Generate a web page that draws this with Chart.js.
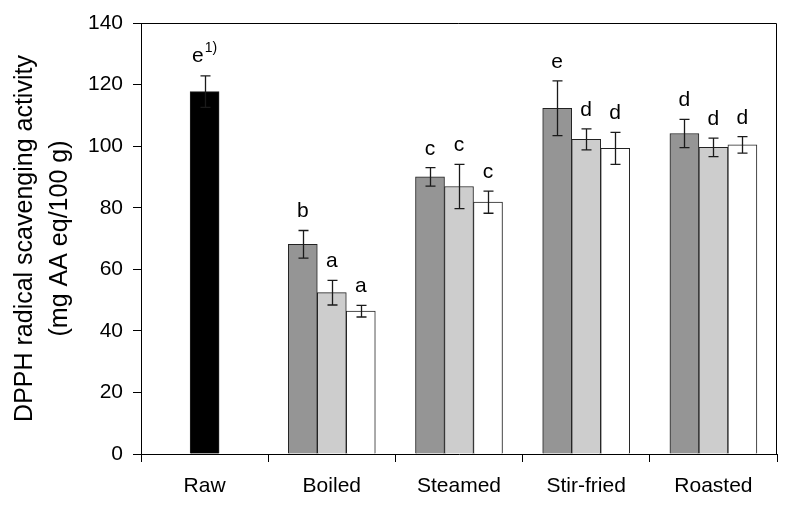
<!DOCTYPE html>
<html>
<head>
<meta charset="utf-8">
<script src="https://cdn.jsdelivr.net/npm/chart.js@4"></script>
<style>
  html, body { margin: 0; padding: 0; background: #fff; }
  #wrap { width: 793px; height: 509px; }
</style>
</head>
<body>
<div id="wrap"><canvas id="chart"></canvas></div>
<script>
'use strict';

// data
const categories = ['Raw', 'Boiled', 'Steamed', 'Stir-fried', 'Roasted'];
const series1 = [117.7, 68.1, 90.0, 112.3, 104.1];
const series2 = [null, 52.4, 86.9, 102.2, 99.6];
const series3 = [null, 46.4, 81.8, 99.3, 100.4];
const err1 = [5.1, 4.5, 3.0, 8.9, 4.6];
const err2 = [null, 4.0, 7.2, 3.4, 3.0];
const err3 = [null, 1.9, 3.6, 5.2, 2.7];
const letters1 = ['e', 'b', 'c', 'e', 'd'];
const letters2 = [null, 'a', 'c', 'd', 'd'];
const letters3 = [null, 'a', 'c', 'd', 'd'];
const yTicks = [0, 20, 40, 60, 80, 100, 120, 140];

const FONT = 'Liberation Sans, Arial, sans-serif';
const errors = [err1, err2, err3];
const letters = [letters1, letters2, letters3];

// error bars, significance letters and the top/right frame
const extras = {
  id: 'extras',
  afterDatasetsDraw(chart) {
    const ctx = chart.ctx;
    const y = chart.scales.y;
    const area = chart.chartArea;
    ctx.save();
    ctx.strokeStyle = '#000';
    ctx.lineWidth = 1;
    ctx.beginPath();
    ctx.moveTo(area.left, area.top + 0.5);
    ctx.lineTo(area.right - 0.5, area.top + 0.5);
    ctx.lineTo(area.right - 0.5, area.bottom);
    ctx.stroke();

    chart.data.datasets.forEach((ds, i) => {
      const meta = chart.getDatasetMeta(i);
      meta.data.forEach((bar, j) => {
        const v = ds.data[j];
        if (v === null) return;
        const e = errors[i][j];
        const yt = y.getPixelForValue(v + e);
        const yb = y.getPixelForValue(v - e);
        const x = Math.round(bar.x) + 0.5;
        ctx.strokeStyle = '#1a1a1a';
        ctx.lineWidth = 1.3;
        ctx.beginPath();
        ctx.moveTo(x, yt); ctx.lineTo(x, yb);
        ctx.moveTo(x - 5, yt); ctx.lineTo(x + 5, yt);
        ctx.moveTo(x - 5, yb); ctx.lineTo(x + 5, yb);
        ctx.stroke();

        const txt = letters[i][j];
        ctx.fillStyle = '#000';
        ctx.textBaseline = 'alphabetic';
        ctx.font = '21px ' + FONT;
        if (i === 0 && j === 0) {
          // superscript note on the raw sample
          const w1 = ctx.measureText(txt).width;
          ctx.font = '14px ' + FONT;
          const w2 = ctx.measureText('1)').width;
          const x0 = bar.x - (w1 + w2 + 1) / 2;
          ctx.font = '21px ' + FONT;
          ctx.textAlign = 'left';
          ctx.fillText(txt, x0, yt - 14);
          ctx.font = '14px ' + FONT;
          ctx.fillText('1)', x0 + w1 + 1, yt - 24);
        } else {
          ctx.textAlign = 'center';
          ctx.fillText(txt, bar.x, yt - 13);
        }
      });
    });
    ctx.restore();
  }
};

const ctx = document.getElementById('chart').getContext('2d');

const chart = new Chart(ctx, {
  type: 'bar',
  data: {
    labels: categories,
    datasets: [
      {
        data: series1,
        backgroundColor: categories.map((c, i) => (i === 0 ? '#000000' : '#959595')),
      },
      { data: series2, backgroundColor: '#cdcdcd' },
      { data: series3, backgroundColor: '#ffffff' },
    ],
  },
  options: {
    responsive: true,
    maintainAspectRatio: false,
    animation: false,
    devicePixelRatio: 1,
    layout: { padding: { top: 23, right: 16, left: 0, bottom: 0 } },
    datasets: {
      bar: {
        skipNull: true,
        barThickness: 29,
        borderColor: '#222222',
        borderWidth: 1,
        borderSkipped: 'start',
      },
    },
    plugins: {
      legend: { display: false },
      tooltip: { enabled: false },
    },
    scales: {
      x: {
        grid: {
          offset: true,
          drawOnChartArea: false,
          color: '#000',
          tickLength: 8,
          tickColor: '#000',
        },
        border: { color: '#000', width: 1 },
        ticks: {
          color: '#000',
          padding: 12,
          font: { family: FONT, size: 21 },
        },
        afterFit(scale) { scale.height = 55; },
      },
      y: {
        min: 0,
        max: 140,
        afterBuildTicks(scale) { scale.ticks = yTicks.map(v => ({ value: v })); },
        grid: {
          drawOnChartArea: false,
          color: '#000',
          tickLength: 8,
          tickColor: '#000',
        },
        border: { color: '#000', width: 1 },
        ticks: {
          color: '#000',
          padding: 10,
          font: { family: FONT, size: 21 },
        },
        title: {
          display: true,
          text: ['DPPH radical scavenging activity', '(mg AA eq/100 g)'],
          color: '#000',
          padding: { top: 8, bottom: 0 },
          font: { family: FONT, size: 25, lineHeight: 1.4 },
        },
        afterFit(scale) { scale.width = 141; },
      },
    },
  },
  plugins: [extras],
});
</script>
</body>
</html>
